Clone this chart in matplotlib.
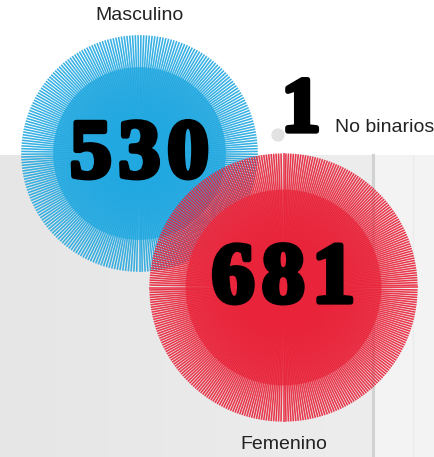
import numpy as np
import matplotlib.pyplot as plt
import matplotlib.patheffects as pe
from matplotlib.collections import LineCollection
from matplotlib.patches import Circle

# gender counts
labels = ['Masculino', 'Femenino', 'No binarios']
values = [530, 681, 1]

COLORS = ['#22a8e0', '#e8233a', '#e2e2e2']
DISC_COLORS = ['#3db4e4', '#ec4f5c', '#e2e2e2']
CENTERS = [(139.5, 153.5), (283.5, 287.5), (278, 135)]
SCALE = 5.14          # px per sqrt(unit), area ~ value
INNER = 0.73          # inner disc / outer radius

W, H = 434, 457

fig = plt.figure(figsize=(W / 100, H / 100), dpi=100)
ax = fig.add_axes([0, 0, 1, 1])
ax.set_xlim(0, W)
ax.set_ylim(H, 0)
ax.set_aspect('equal')
ax.axis('off')

# backdrop: white band on top, grey wall below
top = 155
xs = np.linspace(0, 1, W)
shade = np.where(xs < 373 / W, 230 + 8 * xs, 243) / 255
grad = np.tile(shade, (2, 1))
ax.imshow(np.dstack([grad] * 3), extent=(0, W, H, top), aspect='auto', zorder=0)
ax.axvline(373, ymin=0, ymax=1 - top / H, color='#d2d2d2', lw=2.2, zorder=0.5)
ax.axvline(413, ymin=0, ymax=1 - top / H, color='#ebebeb', lw=1.0, zorder=0.5)

def burst(cx, cy, value, color, disc_color, z):
    r = SCALE * np.sqrt(value)
    ax.add_patch(Circle((cx, cy), r * INNER, color=disc_color, alpha=0.9, lw=0, zorder=z))
    n = max(value // 2, 1)
    ang = np.linspace(0, 2 * np.pi, n, endpoint=False) + np.pi / 2
    segs = [[(cx, cy), (cx + r * np.cos(a), cy + r * np.sin(a))] for a in ang]
    ax.add_collection(LineCollection(segs, colors=color, linewidths=1.15, alpha=0.9, zorder=z + 0.1))
    return r

def spaced(v):
    # hair space between digits, the serif face is a bit narrow
    return '\u200a'.join(str(v))

stroke = [pe.withStroke(linewidth=3.8, foreground='black')]
big = dict(family=['Liberation Serif', 'DejaVu Serif'], fontweight='bold', color='black',
           ha='center', va='center', path_effects=stroke, zorder=10)
small = dict(family='Liberation Sans', fontsize=14, color='#222222', zorder=10)

# masculino
cx, cy = CENTERS[0]
r = burst(cx, cy, values[0], COLORS[0], DISC_COLORS[0], 2)
ax.text(cx, cy + 4, spaced(values[0]), fontsize=60, **big)
ax.text(cx, 20, labels[0], ha='center', va='baseline', **small)

# femenino
cx, cy = CENTERS[1]
r = burst(cx, cy, values[1], COLORS[1], DISC_COLORS[1], 3)
ax.text(cx, cy - 6, spaced(values[1]), fontsize=62, **big)
ax.text(cx, 449, labels[1], ha='center', va='baseline', **small)

# no binarios
cx, cy = CENTERS[2]
ax.add_patch(Circle((cx, cy), SCALE * np.sqrt(values[2]) + 1.5, color=COLORS[2], lw=0, zorder=4))
ax.text(301, 131, str(values[2]), fontsize=56, **{**big, 'va': 'baseline'})
ax.text(335, 132, labels[2], ha='left', va='baseline', **small)

fig.savefig('out.png', dpi=100)
